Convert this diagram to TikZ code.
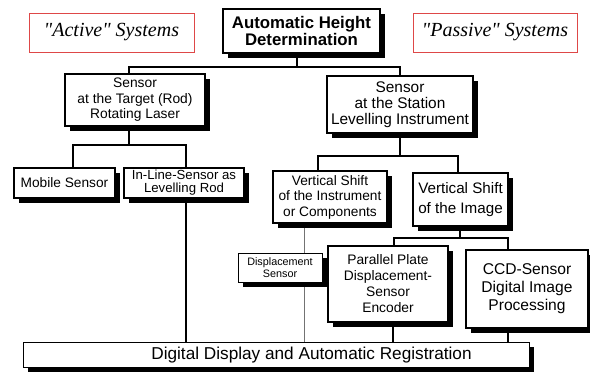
\documentclass[tikz,border=0pt]{standalone}
\usepackage{fontspec}
\setmainfont{Liberation Sans}
\newfontfamily\serifit{Liberation Serif}
\usetikzlibrary{shadows,backgrounds}
\definecolor{sysred}{RGB}{222,72,72}
\begin{document}
\begin{tikzpicture}[x=1pt,y=-1pt,
  box/.style={draw, line width=1.4pt, fill=white, align=center, inner sep=0pt, outer sep=0pt,
    drop shadow={shadow xshift=4.5pt, shadow yshift=-5pt, fill=black, opacity=1}},
  sys/.style={draw=sysred, line width=0.8pt, inner sep=0pt, align=center,
    font=\serifit\itshape\fontsize{20}{22}\selectfont},
  conn/.style={line width=1.3pt},
  faint/.style={line width=0.6pt, black!55}]
\useasboundingbox (0,0) rectangle (590,373);

% system labels
\node[sys, minimum width=165pt, minimum height=39pt] (active) at (111.5,32.5) {"Active" Systems};
\node[sys, minimum width=164pt, minimum height=39pt] (passive) at (495,32.5) {"Passive" Systems};

% boxes
\node[box, minimum width=157pt, minimum height=44pt, font=\bfseries\fontsize{16.8}{15.5}\selectfont] (top) at (301.5,31) {Automatic Height\\Determination};
\node[box, minimum width=140pt, minimum height=52pt, font=\fontsize{13.8}{15.5}\selectfont] (sensL) at (135,100) {Sensor\\at the Target (Rod)\\Rotating Laser};
\node[box, minimum width=146pt, minimum height=57pt, font=\fontsize{15.4}{16}\selectfont] (sensR) at (400,104.5) {Sensor\\at the Station\\Levelling Instrument};
\node[box, minimum width=101pt, minimum height=30pt, font=\fontsize{13.7}{14}\selectfont] (mobile) at (64.5,183) {Mobile Sensor};
\node[box, minimum width=120pt, minimum height=30pt, font=\fontsize{13.2}{13}\selectfont] (inline) at (184,183) {In-Line-Sensor as\\Levelling Rod};
\node[box, minimum width=114pt, minimum height=52pt, font=\fontsize{13.7}{15.5}\selectfont] (vsI) at (330,197) {Vertical Shift\\of the Instrument\\or Components};
\node[box, minimum width=95pt, minimum height=53pt, font=\fontsize{15.2}{20}\selectfont] (vsImg) at (460.5,199.5) {Vertical Shift\\of the Image};
\node[box, line width=1pt, minimum width=84pt, minimum height=29pt, font=\fontsize{10.8}{11.5}\selectfont] (disp) at (280,267.5) {Displacement\\Sensor};
\node[box, minimum width=120pt, minimum height=76pt, font=\fontsize{13.8}{16}\selectfont] (pp) at (388,284) {Parallel Plate\\Displacement-\\Sensor\\Encoder};
\node[box, minimum width=122pt, minimum height=78pt, font=\fontsize{15.6}{18}\selectfont] (ccd) at (527,289) {CCD-Sensor\\Digital Image\\Processing};
\node[box, line width=0.9pt, minimum width=506pt, minimum height=25pt] (bottom) at (276,354.5) {};
\node[font=\fontsize{17.2}{18}\selectfont, inner sep=0pt] (bottomtext) at (311.5,355) {Digital Display and Automatic Registration};

% junction coordinates
\coordinate (jA) at (129,67);
\coordinate (j1) at (297,67);
\coordinate (jB) at (400,67);
\coordinate (kA) at (73,145);
\coordinate (kB) at (129,145);
\coordinate (kC) at (186,145);
\coordinate (mA) at (318,156);
\coordinate (mB) at (400,156);
\coordinate (mC) at (458,156);
\coordinate (nA) at (394,238);
\coordinate (nB) at (460,238);
\coordinate (nC) at (508,238);
\coordinate (vI) at (304,0);
\coordinate (pX) at (393,0);

% connectors
\begin{scope}[on background layer]
\draw[conn] (top.south -| j1) -- (j1);
\draw[conn] (sensL.north -| jA) -- (jA) -- (jB) -- (sensR.north -| jB);
\draw[conn] (sensL.south -| kB) -- (kB);
\draw[conn] (mobile.north -| kA) -- (kA) -- (kC) -- (inline.north -| kC);
\draw[conn] (inline.south -| kC) -- (bottom.north -| kC);
\draw[conn] (sensR.south -| mB) -- (mB);
\draw[conn] (vsI.north -| mA) -- (mA) -- (mC) -- (vsImg.north -| mC);
\draw[faint] (vsI.south -| vI) -- (bottom.north -| vI);
\draw[conn] (vsImg.south -| nB) -- (nB);
\draw[conn] (pp.north -| nA) -- (nA) -- (nC) -- (ccd.north -| nC);
\draw[conn] (pp.south -| pX) -- (bottom.north -| pX);
\draw[conn] (ccd.south -| nC) -- (bottom.north -| nC);
\end{scope}
\end{tikzpicture}
\end{document}
